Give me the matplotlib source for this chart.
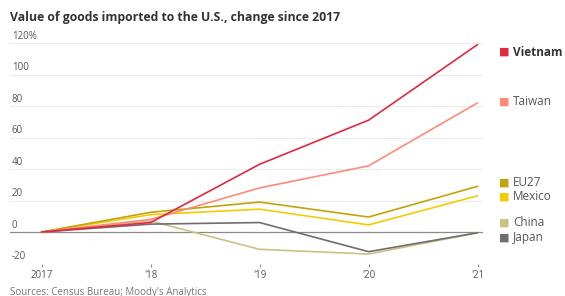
import matplotlib
matplotlib.use('Agg')
import matplotlib.pyplot as plt
import matplotlib.transforms as mtransforms

years = [2017, 2018, 2019, 2020, 2021]
year_labels = ['2017', "'18", "'19", "'20", "'21"]
vietnam = [0, 6, 43, 71, 119]
taiwan = [0, 8, 28, 42, 82]
eu27 = [0, 12.5, 19, 9.5, 29]
mexico = [0, 11, 14.5, 4.5, 23]
china = [0, 7, -11, -14, -0.5]
japan = [0, 5, 6, -12.5, -0.5]

series = [
    ('China', china, '#c8c283'),
    ('Japan', japan, '#6e6e6e'),
    ('Mexico', mexico, '#f2cb05'),
    ('EU27', eu27, '#c2a309'),
    ('Taiwan', taiwan, '#ff8a78'),
    ('Vietnam', vietnam, '#e0283f'),
]
# legend label positions (pixel y from top)
legend_y = {'Vietnam': 52, 'Taiwan': 102, 'EU27': 183, 'Mexico': 197, 'China': 223, 'Japan': 238}
y_ticks = [-20, 0, 20, 40, 60, 80, 100, 120]

W, H = 565, 296
fig = plt.figure(figsize=(W / 100, H / 100), dpi=100)
ax = fig.add_axes([10 / W, (H - 263.5) / H, 473 / W, 220.5 / H])
ax.set_xlim(2016.71, 2021.05)
ax.set_ylim(-20, 120)

trans = mtransforms.blended_transform_factory(fig.transFigure, ax.transData)
for t in y_ticks:
    if t == 0:
        ax.axhline(t, color='#8a8a8a', lw=0.9, zorder=3)
    else:
        ax.axhline(t, color='#ececec', lw=0.8, zorder=0)
    lab = '120%' if t == 120 else str(t)
    ax.text(12 / W, t + 0.8, lab, transform=trans, fontsize=7, color='#555555',
            ha='left', va='bottom', family='Open Sans')

for name, vals, col in series:
    ax.plot(years, vals, color=col, lw=1.2, zorder=4, solid_capstyle='round')

for s in ax.spines.values():
    s.set_visible(False)
ax.set_yticks([])
ax.set_xticks(years)
ax.set_xticklabels(year_labels, fontsize=7, color='#555555', family='Open Sans')
ax.tick_params(axis='x', length=2.5, width=0.7, color='#888888', pad=2.5)

for name, vals, col in series:
    yy = 1 - legend_y[name] / H
    fig.text(499 / W, yy, '■', color=col, fontsize=8, va='center', ha='left', family='DejaVu Sans')
    fig.text(513 / W, yy, name, color='#333333' if name == 'Vietnam' else '#555555',
             fontsize=8.5, va='center', ha='left', family='Open Sans',
             fontweight='bold' if name == 'Vietnam' else 'normal')

fig.text(10 / W, 1 - 18 / H, 'Value of goods imported to the U.S., change since 2017',
         fontsize=8.8, fontweight='bold', color='#333333', va='center', ha='left', family='Open Sans')
fig.text(10 / W, 1 - 292 / H, "Sources: Census Bureau; Moody's Analytics",
         fontsize=7, color='#777777', va='center', ha='left', family='Open Sans')

fig.savefig('out.png', dpi=100)
